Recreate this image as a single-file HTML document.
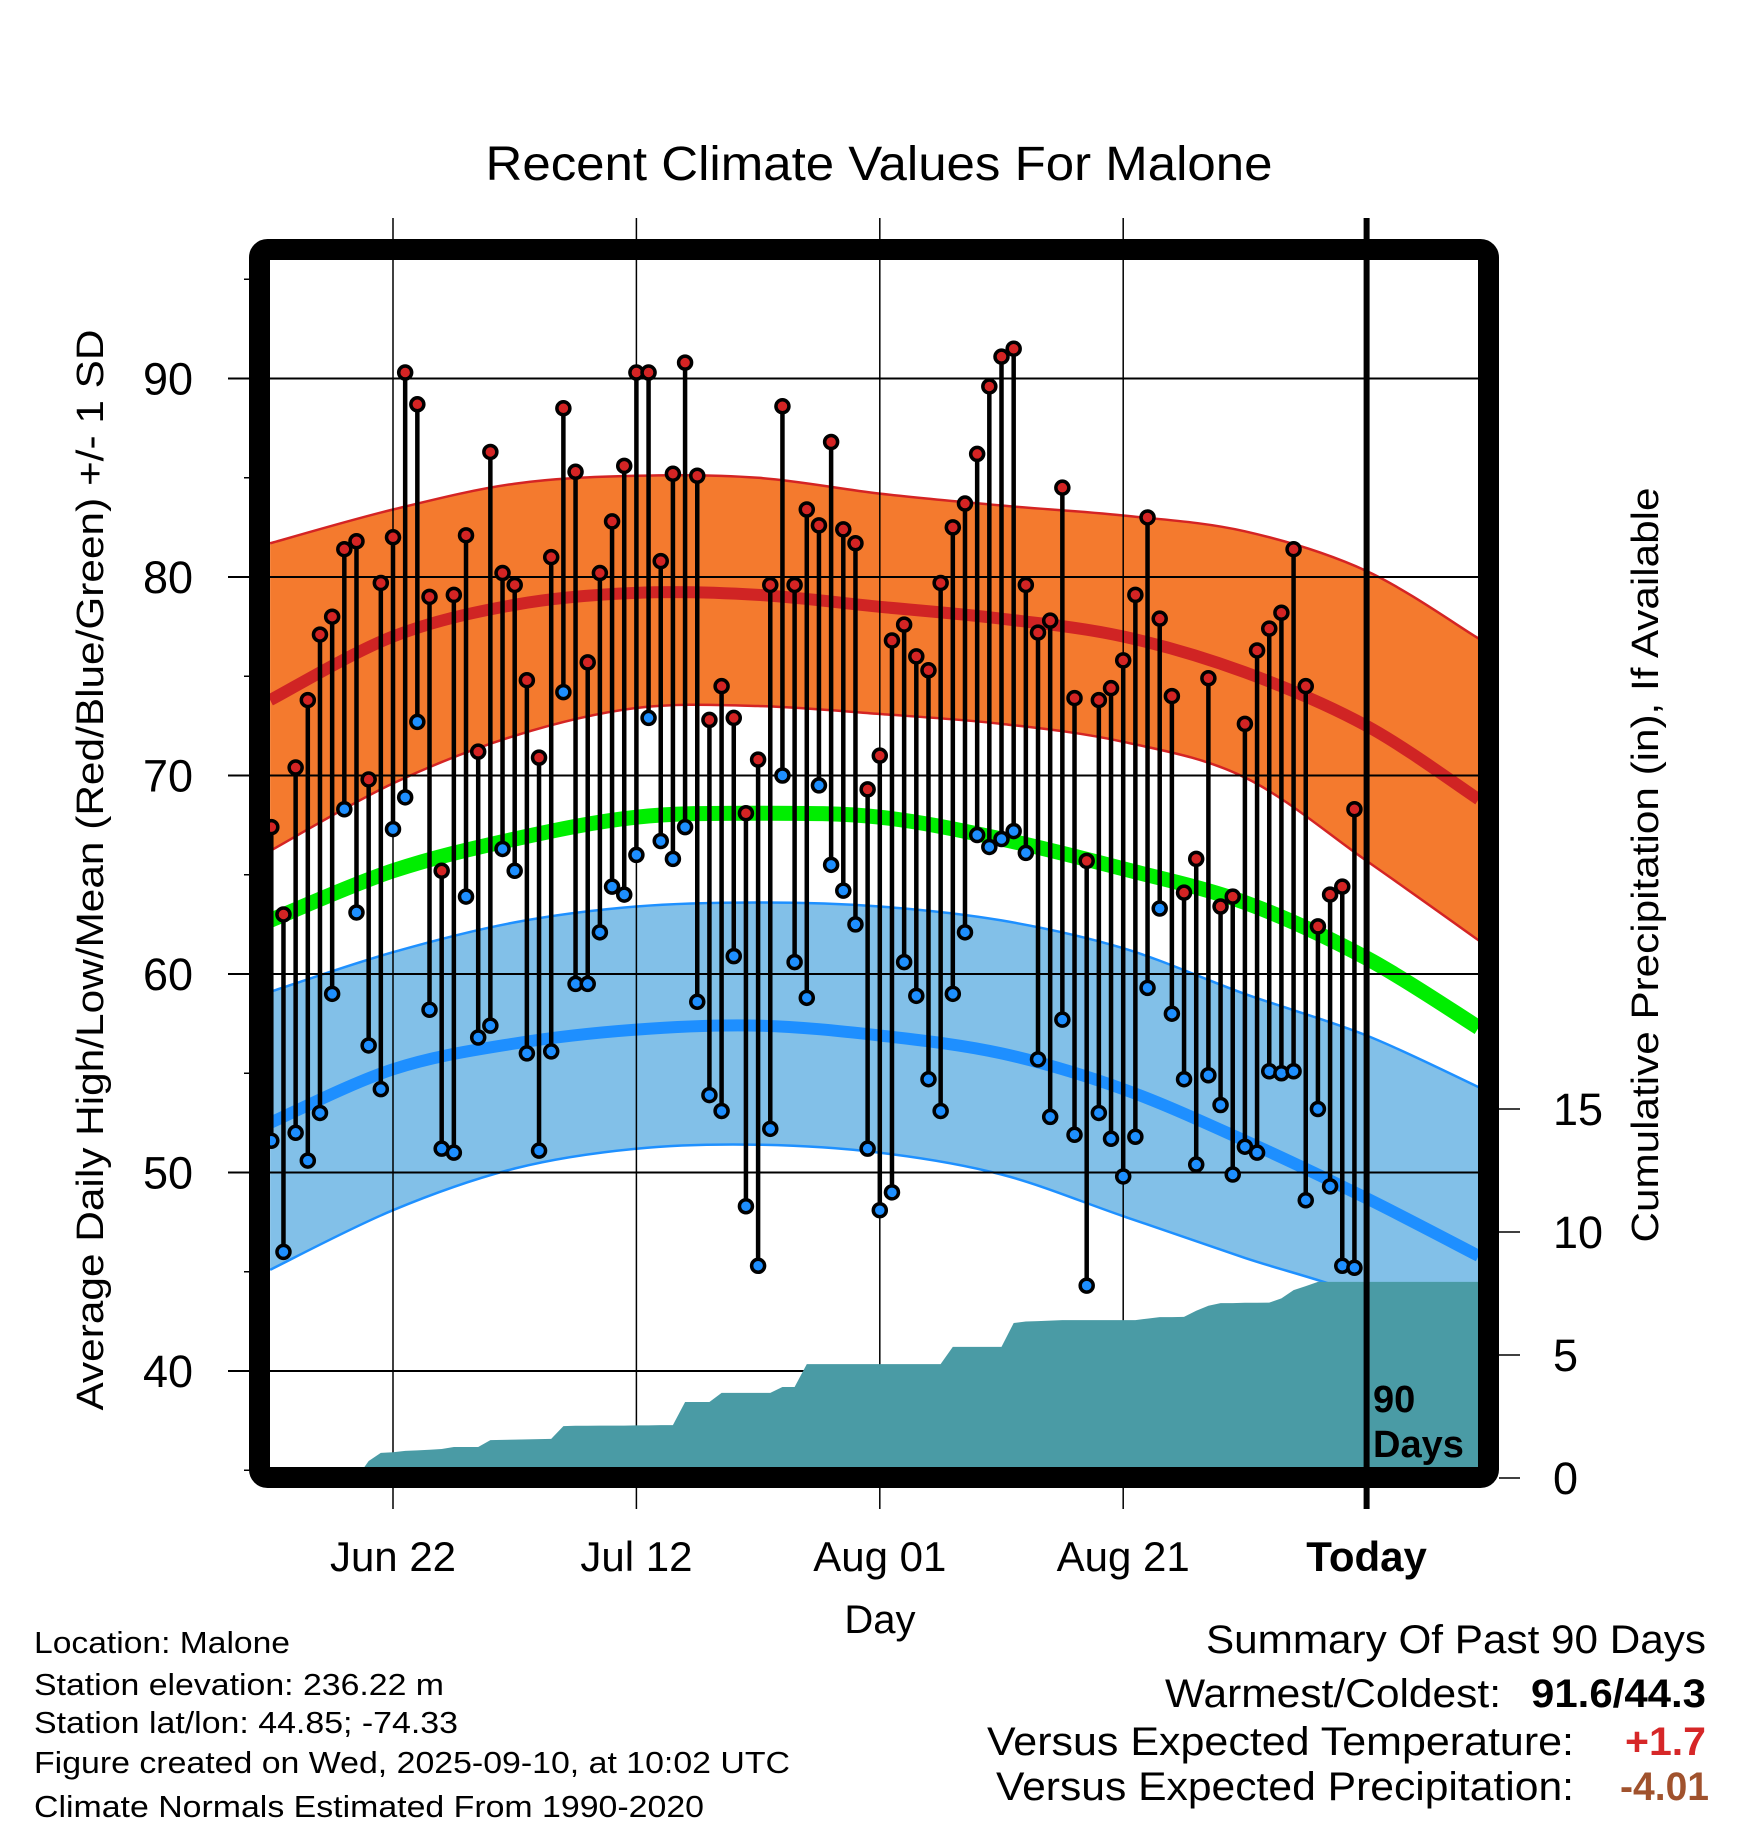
<!DOCTYPE html>
<html><head><meta charset="utf-8"><title>Recent Climate Values For Malone</title>
<style>html,body{margin:0;padding:0;background:#fff;}svg{display:block;font-family:"Liberation Sans",sans-serif;}</style>
</head><body>
<svg id="chart" width="1748" height="1828" viewBox="0 0 1748 1828" xmlns="http://www.w3.org/2000/svg">
<defs><clipPath id="plotclip"><rect x="270" y="260" width="1208" height="1208"/></clipPath></defs>
<rect x="0" y="0" width="1748" height="1828" fill="#fff"/>
<text x="879" y="180" font-size="48" text-anchor="middle" textLength="787" lengthAdjust="spacingAndGlyphs">Recent Climate Values For Malone</text>
<g id="bands" clip-path="url(#plotclip)"></g>
<g id="grid"></g>
<g id="precip" clip-path="url(#plotclip)"></g>
<g id="points"></g>
<rect x="259.5" y="249.5" width="1229" height="1228" rx="8" fill="none" stroke="#000" stroke-width="21" stroke-linejoin="round"/>
<g id="axes"></g>
<text transform="translate(103,870) rotate(-90)" font-size="38" text-anchor="middle" textLength="1081" lengthAdjust="spacingAndGlyphs">Average Daily High/Low/Mean (Red/Blue/Green) +/- 1 SD</text>
<text transform="translate(1658,865) rotate(-90)" font-size="38" text-anchor="middle" textLength="755" lengthAdjust="spacingAndGlyphs">Cumulative Precipitation (in), If Available</text>
<text x="880" y="1633" font-size="40" text-anchor="middle">Day</text>
<text x="1373" y="1412" font-size="38" font-weight="bold">90</text>
<text x="1373" y="1457" font-size="38" font-weight="bold">Days</text>
<g font-size="31">
<text x="34" y="1653" textLength="256" lengthAdjust="spacingAndGlyphs">Location: Malone</text>
<text x="34" y="1695" textLength="410" lengthAdjust="spacingAndGlyphs">Station elevation: 236.22 m</text>
<text x="34" y="1733" textLength="424" lengthAdjust="spacingAndGlyphs">Station lat/lon: 44.85; -74.33</text>
<text x="34" y="1773" textLength="756" lengthAdjust="spacingAndGlyphs">Figure created on Wed, 2025-09-10, at 10:02 UTC</text>
<text x="34" y="1817" textLength="670" lengthAdjust="spacingAndGlyphs">Climate Normals Estimated From 1990-2020</text>
</g>
<g font-size="40">
<text x="1706" y="1653" text-anchor="end" textLength="500" lengthAdjust="spacingAndGlyphs">Summary Of Past 90 Days</text>
<text x="1165" y="1707" textLength="336" lengthAdjust="spacingAndGlyphs">Warmest/Coldest:</text>
<text x="1531" y="1707" font-weight="bold" textLength="175" lengthAdjust="spacingAndGlyphs">91.6/44.3</text>
<text x="987" y="1755" textLength="587" lengthAdjust="spacingAndGlyphs">Versus Expected Temperature:</text>
<text x="1625" y="1755" font-weight="bold" fill="#d62728" textLength="81" lengthAdjust="spacingAndGlyphs">+1.7</text>
<text x="996" y="1800" textLength="578" lengthAdjust="spacingAndGlyphs">Versus Expected Precipitation:</text>
<text x="1620" y="1800" font-weight="bold" fill="#a0522d" textLength="89" lengthAdjust="spacingAndGlyphs">-4.01</text>
</g>
</svg>
<script>
// Daily data (first day = Jun 12, day offset -10 relative to Jun 22)
const highs = [67.4,63,70.4,73.8,77.1,78,81.4,81.8,69.8,79.7,82,90.3,88.7,79,65.2,79.1,82.1,71.2,86.3,80.2,79.6,74.8,70.9,81,88.5,85.3,75.7,80.2,82.8,85.6,90.3,90.3,80.8,85.2,90.8,85.1,72.8,74.5,72.9,68.1,70.8,79.6,88.6,79.6,83.4,82.6,86.8,82.4,81.7,69.3,71,76.8,77.6,76,75.3,79.7,82.5,83.7,86.2,89.6,91.1,91.5,79.6,77.2,77.8,84.5,73.9,65.7,73.8,74.4,75.8,79.1,83,77.9,74,64.1,65.8,74.9,63.4,63.9,72.6,76.3,77.4,78.2,81.4,74.5,62.4,64,64.4,68.3];
const lows = [51.6,46,52,50.6,53,59,68.3,63.1,56.4,54.2,67.3,68.9,72.7,58.2,51.2,51,63.9,56.8,57.4,66.3,65.2,56,51.1,56.1,74.2,59.5,59.5,62.1,64.4,64,66,72.9,66.7,65.8,67.4,58.6,53.9,53.1,60.9,48.3,45.3,52.2,70,60.6,58.8,69.5,65.5,64.2,62.5,51.2,48.1,49,60.6,58.9,54.7,53.1,59,62.1,67,66.4,66.8,67.2,66.1,55.7,52.8,57.7,51.9,44.3,53,51.7,49.8,51.8,59.3,63.3,58,54.7,50.4,54.9,53.4,49.9,51.3,51,55.1,55,55.1,48.6,53.2,49.3,45.3,45.2];
const precipCum = [0,0,0,0,0,0,0,0,0.69,1.02,1.05,1.10,1.12,1.15,1.18,1.26,1.26,1.26,1.54,1.55,1.56,1.57,1.58,1.59,2.11,2.12,2.12,2.13,2.13,2.13,2.14,2.14,2.15,2.15,3.09,3.09,3.09,3.46,3.46,3.46,3.46,3.46,3.70,3.70,4.63,4.63,4.63,4.63,4.63,4.63,4.63,4.63,4.63,4.63,4.63,4.63,5.33,5.33,5.33,5.33,5.33,6.30,6.36,6.38,6.40,6.42,6.42,6.42,6.42,6.42,6.42,6.42,6.48,6.54,6.54,6.55,6.8,7.0,7.11,7.11,7.12,7.12,7.13,7.3,7.64,7.8,7.97,7.97,7.97,7.97];
// Climate normals sampled at day offsets from Jun 22
const normDays = [-10.1,0,10,20,30,40,50,60,70,80,89.2];
const normHighUpper = [81.7,83.4,84.7,85.1,85.0,84.2,83.6,83.1,82.3,80.3,76.9];
const normHigh = [73.8,77.0,78.6,79.2,79.1,78.5,77.9,77.0,75.2,72.5,68.8];
const normHighLower = [66.2,69.6,72.0,73.4,73.5,73.1,72.6,71.7,69.9,65.7,61.7];
const normMean = [62.7,65.2,66.8,67.9,68.1,67.9,66.8,65.3,63.6,60.8,57.3];
const normLowUpper = [59.1,61.1,62.6,63.4,63.6,63.4,62.7,61.3,59.0,56.9,54.3];
const normLow = [52.5,55.2,56.5,57.2,57.4,56.9,56.0,54.2,51.6,48.7,45.8];
const normLowLower = [45.1,48.1,50.2,51.2,51.4,51.0,49.9,47.8,45.7,43.7,40.7];
// Axis ticks
const xTickLabels = ["Jun 22","Jul 12","Aug 01","Aug 21","Today"];
const xTickDays = [0,20,40,60,80];
const yTickValues = [40,50,60,70,80,90];
const yMinorValues = [35,45,55,65,75,85,95];
const precipTicks = [0,5,10,15];

const NS = "http://www.w3.org/2000/svg";
const firstDay = -10;
function xs(d){ return 393 + d*12.17; }
function ys(t){ return 378.5 + (90 - t)*19.85; }
function yp(p){ return 1478 - p*24.6; }
function mk(tag, attrs, parent){
  const e = document.createElementNS(NS, tag);
  for (const k in attrs) e.setAttribute(k, attrs[k]);
  parent.appendChild(e); return e;
}
function smoothPath(pts){
  let d = "M" + pts[0][0].toFixed(1) + "," + pts[0][1].toFixed(1);
  for (let i=0;i<pts.length-1;i++){
    const p0=pts[Math.max(0,i-1)], p1=pts[i], p2=pts[i+1], p3=pts[Math.min(pts.length-1,i+2)];
    const c1=[p1[0]+(p2[0]-p0[0])/6, p1[1]+(p2[1]-p0[1])/6];
    const c2=[p2[0]-(p3[0]-p1[0])/6, p2[1]-(p3[1]-p1[1])/6];
    d += " C"+c1[0].toFixed(1)+","+c1[1].toFixed(1)+" "+c2[0].toFixed(1)+","+c2[1].toFixed(1)+" "+p2[0].toFixed(1)+","+p2[1].toFixed(1);
  }
  return d;
}
function curvePts(arr){ return normDays.map((d,i)=>[xs(d), ys(arr[i])]); }
function bandPath(up, lo){
  const a = smoothPath(curvePts(up));
  const b = smoothPath(curvePts(lo).reverse());
  return a + " L" + b.slice(1) + " Z";
}

const bands = document.getElementById('bands');
let el;
el = mk('path', {d: bandPath(normHighUpper, normHighLower), fill:'#f47a2e'}, bands);


el = mk('path', {d: bandPath(normLowUpper, normLowLower), fill:'#82c0e8'}, bands);


[[normHighUpper,'#d42424',2.5,'high-upper-edge'],[normHighLower,'#d42424',2.5,'high-lower-edge'],
 [normLowUpper,'#1e90ff',2.5,'low-upper-edge'],[normLowLower,'#1e90ff',2.5,'low-lower-edge'],
 [normHigh,'#d02424',12,'normal-high-line'],[normLow,'#1e8fff',12,'normal-low-line'],[normMean,'#00ee00',15,'normal-mean-line']].forEach(c=>{
  const p = mk('path', {d: smoothPath(curvePts(c[0])), fill:'none', stroke:c[1], 'stroke-width':c[2]}, bands);
  
  
});

const grid = document.getElementById('grid');
yTickValues.forEach(v=>{
  const l = mk('line', {x1:228, x2:1478, y1:ys(v), y2:ys(v), stroke:'#000', 'stroke-width':2}, grid);
  
  
});
xTickDays.forEach((d,i)=>{
  if (i === xTickDays.length-1) return;
  const l = mk('line', {x1:xs(d), x2:xs(d), y1:218, y2:1509, stroke:'#000', 'stroke-width':1.5}, grid);
  
  
});

const precip = document.getElementById('precip');
let pd = "M" + xs(firstDay).toFixed(1) + "," + yp(0).toFixed(1);
precipCum.forEach((v,i)=>{ pd += " L" + xs(firstDay+i).toFixed(1) + "," + yp(v).toFixed(1); });
pd += " L1478," + yp(precipCum[precipCum.length-1]).toFixed(1) + " L1478,1480 L" + xs(firstDay).toFixed(1) + ",1480 Z";
el = mk('path', {d: pd, fill:'#4a9ba5'}, precip);



const pts = document.getElementById('points');
highs.forEach((h,i)=>{
  const x = xs(firstDay+i);
  const s = mk('line', {x1:x, x2:x, y1:ys(h), y2:ys(lows[i]), stroke:'#000', 'stroke-width':4.5}, pts);
  
  
});
highs.forEach((h,i)=>{
  const x = xs(firstDay+i);
  const c1 = mk('circle', {cx:x, cy:ys(h), r:6.5, fill:'#d42424', stroke:'#000', 'stroke-width':3.5}, pts);
  
  
  const c2 = mk('circle', {cx:x, cy:ys(lows[i]), r:6.5, fill:'#1e8fff', stroke:'#000', 'stroke-width':3.5}, pts);
  
  
});

const axes = document.getElementById('axes');
el = mk('line', {x1:xs(80), x2:xs(80), y1:218, y2:1509, stroke:'#000', 'stroke-width':6}, axes);


el = mk('line', {x1:xs(80), x2:xs(80), y1:1488, y2:1509, stroke:'#000', 'stroke-width':2}, axes);


yTickValues.forEach(v=>{
  const t = mk('text', {x:168, y:ys(v)+16, 'font-size':45, 'text-anchor':'middle'}, axes);
  t.textContent = String(v);
  
  
});
yMinorValues.forEach(v=>{
  const l = mk('line', {x1:244, x2:255, y1:ys(v), y2:ys(v), stroke:'#000', 'stroke-width':1.5}, axes);
  
  
});
xTickDays.forEach((d,i)=>{
  const attrs = {x:xs(d), y:1571, 'font-size':42, 'text-anchor':'middle'};
  if (i === xTickDays.length-1) attrs['font-weight'] = 'bold';
  const t = mk('text', attrs, axes);
  t.textContent = xTickLabels[i];
  
  
});
precipTicks.forEach(v=>{
  const l = mk('line', {x1:1499, x2:1520, y1:yp(v), y2:yp(v), stroke:'#000', 'stroke-width':1.5}, axes);
  
  
  const t = mk('text', {x:1553, y:yp(v)+16, 'font-size':45}, axes);
  t.textContent = String(v);
  
  
});
</script>
</body></html>
